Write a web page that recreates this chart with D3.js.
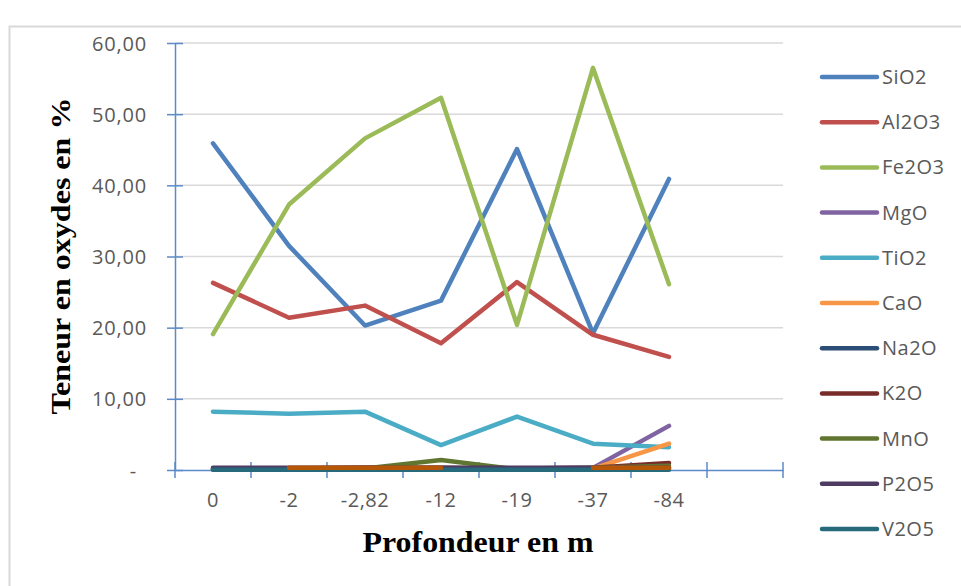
<!DOCTYPE html>
<html>
<head>
<meta charset="utf-8">
<script src="https://cdn.jsdelivr.net/npm/d3@7"></script>
<style>
  html, body { margin: 0; padding: 0; background: #ffffff; }
  svg { display: block; }
</style>
</head>
<body>
<svg id="chart" width="961" height="586"></svg>
<script>
// Depth categories (the last slot is an empty category)
const depths = ["0", "-2", "-2,82", "-12", "-19", "-37", "-84", ""];

// Oxide contents (%) at each depth
const SiO2  = [45.9, 31.5, 20.3, 23.8, 45.1, 19.2, 40.9];
const Al2O3 = [26.3, 21.4, 23.1, 17.8, 26.4, 19.0, 15.9];
const Fe2O3 = [19.1, 37.3, 46.6, 52.3, 20.4, 56.5, 26.1];
const MgO   = [0.2, 0.2, 0.3, 0.2, 0.2, 0.3, 6.2];
const TiO2  = [8.2, 7.9, 8.2, 3.5, 7.5, 3.7, 3.2];
const CaO   = [0.1, 0.1, 0.2, 0.2, 0.1, 0.2, 3.7];
const Na2O  = [0.1, 0.1, 0.1, 0.1, 0.1, 0.1, 0.2];
const K2O   = [0.2, 0.2, 0.3, 0.3, 0.2, 0.3, 1.0];
const MnO   = [0.1, 0.1, 0.2, 1.4, 0.1, 0.3, 0.6];
const P2O5  = [0.3, 0.3, 0.3, 0.3, 0.3, 0.3, 0.3];
const V2O5  = [0.05, 0.05, 0.05, 0.05, 0.05, 0.05, 0.05];
const Serie12 = [null, 0.3, 0.3, 0.3, null, 0.3, 0.3];

const yTicks = [0, 10, 20, 30, 40, 50, 60];

const series = [
  { name: "SiO2",  values: SiO2,  color: "#4F81BD", legend: true },
  { name: "Al2O3", values: Al2O3, color: "#C0504D", legend: true },
  { name: "Fe2O3", values: Fe2O3, color: "#9BBB59", legend: true },
  { name: "MgO",   values: MgO,   color: "#8064A2", legend: true },
  { name: "TiO2",  values: TiO2,  color: "#4BACC6", legend: true },
  { name: "CaO",   values: CaO,   color: "#F79646", legend: true },
  { name: "Na2O",  values: Na2O,  color: "#2C4D75", legend: true },
  { name: "K2O",   values: K2O,   color: "#772C2A", legend: true },
  { name: "MnO",   values: MnO,   color: "#5F7530", legend: true },
  { name: "P2O5",  values: P2O5,  color: "#4D3B62", legend: true },
  { name: "V2O5",  values: V2O5,  color: "#276A7C", legend: true },
  { name: "Série12", values: Serie12, color: "#B65708", legend: false }
];

const svg = d3.select("#chart");

// Outer chart border
svg.append("rect")
  .attr("x", 9.5).attr("y", 26.5)
  .attr("width", 1000).attr("height", 700)
  .attr("fill", "none").attr("stroke", "#D9D9D9").attr("stroke-width", 2);

const plotLeft = 175, plotRight = 783, plotTop = 43, plotBottom = 470;

const x = d3.scaleBand().domain(depths).range([plotLeft, plotRight]).padding(0);
const y = d3.scaleLinear().domain([0, 60]).range([plotBottom, plotTop]);

const labelFont = "'Open Sans', 'Liberation Sans', sans-serif";
const axisColor = "#5B8AC9";

// Horizontal gridlines
svg.append("g").selectAll("line")
  .data(yTicks.filter(t => t > 0))
  .join("line")
  .attr("x1", plotLeft).attr("x2", plotRight)
  .attr("y1", d => y(d)).attr("y2", d => y(d))
  .attr("stroke", "#D9D9D9").attr("stroke-width", 1.5);

// Y axis
const yAxis = svg.append("g")
  .attr("transform", `translate(${plotLeft},0)`)
  .call(d3.axisLeft(y).tickValues(yTicks).tickSize(0)
    .tickFormat(d => d === 0 ? "-" : d3.format(".2f")(d).replace(".", ",")));
yAxis.select(".domain").attr("stroke", axisColor).attr("stroke-width", 1.5);
yAxis.selectAll(".tick text")
  .attr("x", d => d === 0 ? -38 : -28)
  .attr("dy", "0.35em")
  .attr("fill", "#595959")
  .style("font-family", labelFont)
  .style("font-size", "20px")
  .style("letter-spacing", "0.8px");
yAxis.selectAll(".tick").append("line")
  .attr("x1", -8).attr("x2", 8)
  .attr("stroke", axisColor).attr("stroke-width", 1.5);

// X axis (ticks between categories)
const xAxis = svg.append("g")
  .attr("transform", `translate(0,${plotBottom})`)
  .call(d3.axisBottom(x).tickSize(0));
xAxis.select(".domain").attr("stroke", axisColor).attr("stroke-width", 1.5);
xAxis.selectAll(".tick text")
  .attr("y", 30)
  .attr("dy", "0.35em")
  .attr("fill", "#595959")
  .style("font-family", labelFont)
  .style("font-size", "20px")
  .style("letter-spacing", "0.5px");
const boundaries = depths.map(d => x(d)).concat([plotRight]);
xAxis.append("g").selectAll("line")
  .data(boundaries)
  .join("line")
  .attr("x1", d => d).attr("x2", d => d)
  .attr("y1", -8).attr("y2", 8)
  .attr("stroke", axisColor).attr("stroke-width", 1.5);

// Series lines
const line = d3.line()
  .defined(d => d.v !== null)
  .x(d => x(d.cat) + x.bandwidth() / 2)
  .y(d => y(d.v));

svg.append("g").selectAll("path")
  .data(series)
  .join("path")
  .attr("d", s => line(s.values.map((v, i) => ({ cat: depths[i], v }))))
  .attr("fill", "none")
  .attr("stroke", s => s.color)
  .attr("stroke-width", 4.5)
  .attr("stroke-linejoin", "round")
  .attr("stroke-linecap", "round");

// Axis titles
svg.append("text")
  .attr("x", 478).attr("y", 552)
  .attr("text-anchor", "middle")
  .attr("textLength", 231)
  .attr("lengthAdjust", "spacingAndGlyphs")
  .style("font-family", "'Liberation Serif', 'Times New Roman', serif")
  .style("font-weight", "bold")
  .style("font-size", "30px")
  .attr("fill", "#000")
  .text("Profondeur en m");

svg.append("text")
  .attr("transform", "translate(70,256) rotate(-90)")
  .attr("text-anchor", "middle")
  .attr("textLength", 317)
  .attr("lengthAdjust", "spacingAndGlyphs")
  .style("font-family", "'Liberation Serif', 'Times New Roman', serif")
  .style("font-weight", "bold")
  .style("font-size", "28px")
  .attr("fill", "#000")
  .text("Teneur en oxydes en %");

// Legend
const legendItems = series.filter(s => s.legend);
const lg = svg.append("g").selectAll("g")
  .data(legendItems)
  .join("g")
  .attr("transform", (d, i) => `translate(822,${77 + i * 45.2})`);
lg.append("line")
  .attr("x1", 0).attr("x2", 55)
  .attr("stroke", d => d.color)
  .attr("stroke-width", 4.5)
  .attr("stroke-linecap", "round");
lg.append("text")
  .attr("x", 60).attr("dy", "0.35em")
  .attr("fill", "#595959")
  .style("font-family", labelFont)
  .style("font-size", "20px")
  .style("letter-spacing", "0.5px")
  .text(d => d.name);
</script>
</body>
</html>
